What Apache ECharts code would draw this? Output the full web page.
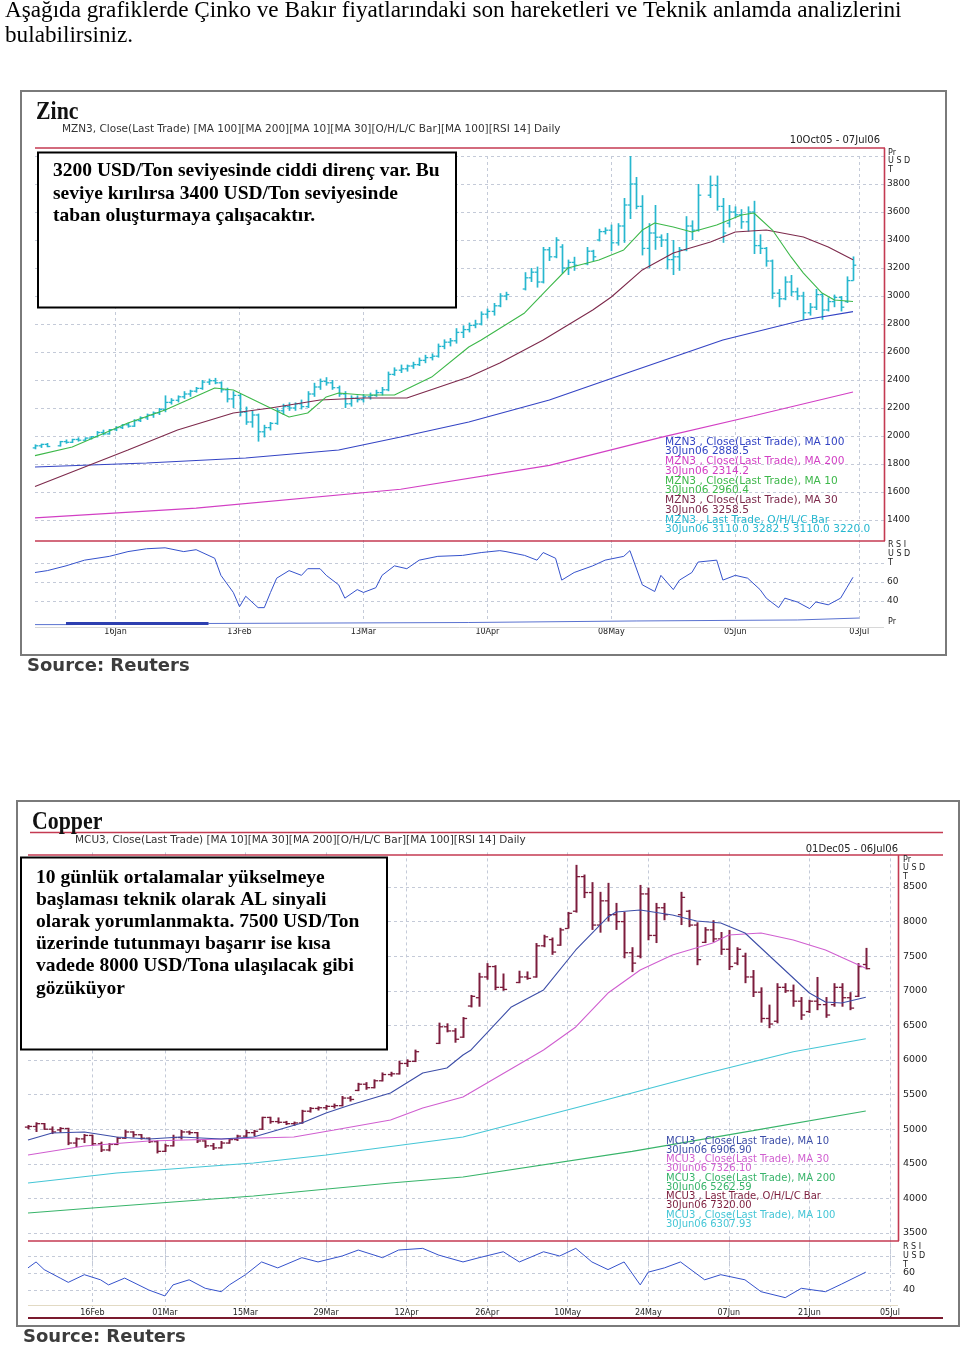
<!DOCTYPE html>
<html><head><meta charset="utf-8">
<script src="https://cdn.jsdelivr.net/npm/echarts@6/dist/echarts.min.js"></script>
<style>html,body{margin:0;padding:0;background:#fff}#c{width:960px;height:1347px}</style>
</head><body><div id="c"></div>
<script>
// ---------- categories / ticks ----------
function weekdays(start, end){const out=[];const d=new Date(start+'T00:00:00Z');const e=new Date(end+'T00:00:00Z');while(d<=e){const w=d.getUTCDay();if(w!==0&&w!==6)out.push(d.toISOString().slice(0,10));d.setUTCDate(d.getUTCDate()+1);}return out;}
const zincDates = weekdays('2005-12-28','2006-07-07');
const copperDates = weekdays('2006-02-06','2006-07-06');
const zincTicks = ['2006-01-16','2006-02-13','2006-03-13','2006-04-10','2006-05-08','2006-06-05','2006-07-03'];
const zincTickLabels = ['16Jan','13Feb','13Mar','10Apr','08May','05Jun','03Jul'];
const copperTicks = ['2006-02-16','2006-03-01','2006-03-15','2006-03-29','2006-04-12','2006-04-26','2006-05-10','2006-05-24','2006-06-07','2006-06-21','2006-07-05'];
const copperTickLabels = ['16Feb','01Mar','15Mar','29Mar','12Apr','26Apr','10May','24May','07Jun','21Jun','05Jul'];

// ---------- ZINC values ----------
// [open, high, low, close] per weekday from 28Dec05 (null = holiday)
const zincOHLC = [
[1915,1940,1905,1930],[1930,1945,1915,1940],[1940,1950,1920,1925],null,[1930,1965,1925,1960],
[1960,1975,1945,1955],[1955,1980,1950,1975],[1975,1990,1960,1970],[1970,1990,1965,1985],[1985,2000,1975,1995],
[1995,2035,1990,2025],[2025,2045,2005,2015],[2015,2050,2010,2045],[2045,2070,2035,2060],[2060,2085,2050,2080],
[2080,2095,2060,2070],[2070,2120,2065,2110],[2110,2140,2100,2130],[2130,2160,2115,2150],[2150,2175,2130,2165],
[2165,2200,2150,2190],[2190,2290,2170,2240],[2240,2270,2225,2255],[2255,2290,2240,2280],[2280,2320,2265,2300],
[2300,2330,2280,2320],[2320,2350,2310,2340],[2340,2400,2330,2385],[2385,2410,2365,2395],[2395,2415,2370,2380],
[2380,2390,2310,2330],[2330,2345,2240,2265],[2265,2320,2200,2290],[2290,2300,2140,2170],[2170,2210,2080,2100],
[2100,2180,2060,2150],[2150,2160,1960,2030],[2030,2080,1990,2060],[2060,2100,2040,2090],[2090,2200,2080,2180],
[2180,2230,2150,2210],[2210,2240,2180,2200],[2200,2240,2180,2230],[2230,2260,2190,2210],[2210,2320,2200,2300],
[2300,2380,2280,2350],[2350,2410,2330,2390],[2390,2420,2360,2380],[2380,2400,2330,2345],[2345,2360,2280,2300],
[2300,2320,2200,2230],[2230,2290,2210,2270],[2270,2290,2240,2260],[2260,2300,2240,2280],[2280,2310,2260,2290],
[2290,2330,2280,2310],[2310,2350,2290,2330],[2330,2460,2320,2440],[2440,2490,2430,2470],[2470,2510,2450,2480],
[2480,2510,2460,2500],[2500,2530,2480,2510],[2510,2560,2500,2540],[2540,2580,2520,2560],[2560,2590,2540,2570],
[2570,2660,2560,2640],[2640,2690,2620,2670],[2670,2700,2640,2680],[2680,2770,2660,2740],[2740,2790,2700,2760],
[2760,2810,2740,2790],[2790,2830,2770,2800],[2800,2890,2790,2870],[2870,2910,2840,2890],[2890,2950,2860,2930],
[2930,3020,2920,3000],[3000,3030,2970,3010],null,null,[3050,3170,3040,3130],
[3130,3200,3100,3170],[3170,3210,3060,3100],[3100,3350,3090,3330],[3330,3350,3250,3280],[3280,3420,3270,3400],
[3350,3370,3160,3200],[3200,3260,3150,3240],[3240,3280,3180,3220],null,[3230,3350,3220,3320],
[3320,3330,3250,3280],[3400,3480,3390,3460],[3460,3490,3440,3470],[3470,3510,3320,3380],[3380,3520,3360,3500],
[3500,3700,3380,3650],[3650,4000,3550,3800],[3800,3850,3620,3640],[3640,3720,3290,3340],[3340,3520,3200,3450],
[3450,3650,3330,3420],[3420,3440,3350,3400],[3400,3450,3190,3260],[3260,3400,3150,3280],[3280,3350,3180,3330],
[3330,3570,3320,3500],[3500,3540,3400,3470],[3470,3800,3460,3720],null,[3720,3860,3700,3790],
[3790,3860,3610,3640],[3640,3700,3380,3450],[3520,3650,3490,3600],[3600,3640,3560,3580],[3580,3620,3480,3530],
[3530,3640,3460,3600],[3600,3680,3300,3360],[3360,3440,3300,3340],[3340,3350,3210,3250],[3250,3260,2980,3020],
[3020,3050,2920,2980],[2980,3140,2970,3100],[3100,3150,3000,3030],[3030,3060,2970,3000],[3000,3030,2830,2880],
[2880,2950,2860,2920],[2920,3050,2900,3010],[3010,3020,2830,2900],[2900,2990,2890,2960],[2960,3010,2920,2990],
[2990,3000,2890,2920],[2960,3140,2950,3110],[3110,3282.5,3110,3220]
];
// [dayIndex, value]
const zincMA10 = [[0,1860],[6,1921],[15,2093],[21,2186],[29,2343],[32,2329],[38,2200],[41,2136],[44,2164],[47,2279],[49,2307],[53,2293],[58,2293],[64,2421],[70,2636],[72,2686],[79,2879],[83,3064],[86,3200],[91,3257],[95,3329],[98,3471],[100,3521],[103,3493],[106,3457],[110,3507],[114,3579],[116,3593],[119,3471],[122,3279],[124,3164],[127,3021],[129,2971],[132,2960.4]];
const zincMA30 = [[0,1640],[15,1900],[23,2043],[32,2164],[38,2200],[46,2257],[53,2271],[60,2271],[70,2421],[75,2521],[82,2686],[90,2900],[93,2993],[98,3186],[103,3307],[109,3386],[113,3457],[118,3471],[124,3421],[128,3350],[132,3258.5]];
const zincMA100 = [[0,1779],[18,1807],[34,1843],[49,1900],[59,1993],[70,2100],[83,2257],[96,2457],[111,2686],[124,2829],[132,2888.5]];
const zincMA200 = [[0,1415],[26,1485],[59,1620],[83,1790],[101,1990],[116,2145],[132,2314.2]];
const zincRSI = [[0,70],[2,72],[5,77],[8,83],[12,87],[15,92],[18,95],[21,96],[24,92],[26,94],[29,85],[30,67],[32,49],[33,34],[34,45],[36,33],[37,33],[38,49],[39,64],[41,72],[43,67],[44,74],[46,74],[47,67],[49,57],[50,43],[52,52],[53,49],[55,54],[56,67],[58,77],[60,74],[62,83],[65,87],[69,88],[72,91],[75,93],[76,92],[79,88],[81,83],[82,91],[84,85],[85,62],[87,70],[90,77],[92,83],[95,87],[96,93],[98,57],[100,50],[101,67],[103,52],[104,62],[106,70],[107,81],[110,83],[111,62],[113,67],[115,64],[117,52],[118,43],[120,33],[121,43],[123,39],[125,32],[126,39],[128,36],[130,43],[131,54],[132,65]];
const zincPr = [[0,1],[5,1.8],[28,2.5],[70,3.6],[97,4.3],[123,5.7],[133,5.7]];
const zincPrThick = [[5,1.8],[28,1.8]];
const zincYLabels = {min:1200,max:4000,step:200};

// ---------- COPPER values ----------
const copperOHLC = [
[5030,5060,5000,5040],[5040,5100,4960,5080],[5080,5090,4990,5000],[5000,5040,4930,4960],[4990,5030,4950,5010],
[5010,5020,4770,4800],[4800,4880,4740,4860],[4860,4930,4800,4910],[4910,4920,4760,4790],[4790,4820,4670,4700],
[4700,4800,4680,4780],[4780,4890,4770,4870],[4870,4990,4860,4960],[4960,4970,4880,4920],[4920,4930,4850,4870],
[4870,4880,4800,4820],[4820,4840,4650,4680],[4680,4790,4670,4760],[4760,4920,4750,4880],[4880,4990,4850,4960],
[4960,4980,4920,4950],[4950,4960,4800,4830],[4830,4840,4730,4760],[4760,4800,4700,4730],[4730,4830,4720,4800],
[4800,4870,4790,4850],[4850,4920,4830,4900],[4900,4990,4880,4950],[4950,4990,4900,4970],[5000,5180,4990,5170],
[5170,5180,5080,5110],[5110,5170,5080,5100],[5100,5120,5060,5080],[5080,5110,5050,5090],[5090,5280,5080,5260],
[5260,5320,5240,5300],[5300,5330,5270,5310],[5310,5350,5280,5330],[5330,5370,5300,5340],[5340,5480,5330,5450],
[5450,5480,5400,5430],[5560,5670,5550,5650],[5650,5680,5570,5600],[5600,5720,5590,5700],[5700,5820,5690,5790],
[5790,5830,5760,5800],[5800,5990,5790,5950],[5950,6010,5900,5980],[5980,6150,5970,6120],null,
null,[6240,6540,6230,6480],[6480,6530,6400,6420],[6420,6460,6250,6300],[6330,6620,6320,6600],
[6780,6940,6760,6920],[6900,7260,6770,7200],[7200,7400,7160,7350],[7350,7370,7010,7050],[7050,7250,7000,7020],
null,[7120,7290,7110,7200],[7200,7280,7160,7180],[7200,7690,7190,7650],[7650,7810,7630,7780],
[7740,7770,7520,7560],[7660,7910,7650,7880],[7900,8140,7900,8120],[8150,8820,8130,8650],[8650,8680,8340,8420],
[8420,8570,7880,7950],[7950,8430,7840,8300],[8300,8560,8000,8100],[8100,8270,7880,8000],[8000,8140,7470,7550],
[7550,7630,7270,7400],[7500,8530,7470,8400],[8400,8490,7730,7800],[7800,8270,7690,8200],[8200,8270,8020,8100],
null,[8100,8430,7950,8350],[8150,8170,7920,7950],[7950,7990,7370,7450],[7700,7920,7690,7880],
[7880,8020,7700,7750],[7750,7850,7520,7600],[7600,7880,7300,7350],[7400,7630,7370,7600],[7500,7550,7110,7200],
[7200,7300,6910,6980],[6980,7050,6540,6600],[6600,6800,6460,6520],[6560,7110,6530,7050],[7050,7110,6970,7000],
[7000,7090,6770,6850],[6850,6910,6580,6650],[6700,6870,6680,6850],[6850,7200,6720,6800],[6800,6910,6610,6650],
[6800,7110,6770,7050],[7050,7110,6770,6900],[6900,6980,6720,6750],[6920,7400,6910,7350],[7380,7620,7310,7320]
];
const copperMA10 = [[0,4844],[3,4945],[7,4960],[11,4888],[15,4859],[19,4888],[24,4859],[28,4888],[31,4989],[34,5090],[37,5234],[40,5350],[45,5523],[49,5812],[52,5885],[54,6072],[55,6145],[60,6766],[64,7012],[68,7590],[72,8067],[73,8139],[76,8168],[80,8095],[83,8009],[86,7980],[89,7835],[93,7402],[97,6968],[99,6838],[101,6824],[104,6906.9]];
const copperMA30 = [[0,4627],[7,4757],[15,4830],[24,4859],[33,4888],[38,4989],[45,5133],[49,5307],[54,5466],[64,6145],[68,6477],[72,6968],[76,7301],[80,7517],[85,7691],[87,7806],[91,7835],[95,7734],[99,7590],[104,7326.1]];
const copperMA100 = [[0,4223],[11,4367],[28,4512],[37,4627],[54,4888],[71,5400],[84,5800],[95,6120],[104,6307.93]];
const copperMA200 = [[0,3789],[8,3862],[28,4035],[45,4223],[54,4310],[75,4680],[90,4980],[104,5262.59]];
const copperRSI = [[0,66],[1,73],[2,64],[4,54],[5,49],[7,58],[9,52],[10,46],[12,54],[15,40],[17,33],[18,46],[20,52],[22,42],[24,38],[25,46],[27,58],[29,73],[31,66],[34,78],[36,73],[39,80],[41,87],[44,78],[46,87],[49,89],[51,81],[54,73],[56,78],[59,85],[61,73],[64,85],[66,80],[68,89],[70,73],[72,64],[74,73],[76,46],[77,61],[79,66],[81,73],[84,52],[86,58],[89,52],[91,38],[94,31],[96,42],[99,38],[101,47],[104,61]];

// ---------- colours ----------
const RED='#c43a52', GRIDC='#c4cad8';
const Z_BAR='#27b7cf', Z_MA10='#3db84a', Z_MA30='#7d2a4c', Z_MA100='#3444c4', Z_MA200='#d23fc4';
const C_BAR='#7c1d3d', C_MA10='#3d4ea8', C_MA30='#d05fd0', C_MA100='#45c6d6', C_MA200='#38b46a';
const RSI_C='#3552cc';

function ohlcData(arr){const out=[];arr.forEach((d,i)=>{if(d)out.push([i,d[0],d[1],d[2],d[3]]);});return out;}
function ohlcRender(color, lw){
  return function(params, api){
    const i=api.value(0);
    const h=api.coord([i,api.value(2)]), l=api.coord([i,api.value(3)]);
    const o=api.coord([i,api.value(1)]), c=api.coord([i,api.value(4)]);
    const w=Math.max(2.5, api.size([1,0])[0]*0.45);
    const x=Math.round(h[0])+0.5;
    return {type:'group',children:[
      {type:'line',shape:{x1:x,y1:h[1],x2:x,y2:l[1]},style:{stroke:color,lineWidth:lw}},
      {type:'line',shape:{x1:x-w,y1:o[1],x2:x,y2:o[1]},style:{stroke:color,lineWidth:1.3}},
      {type:'line',shape:{x1:x,y1:c[1],x2:x+w,y2:c[1]},style:{stroke:color,lineWidth:1.3}}
    ]};
  };
}
const inTicks=(list)=>(idx,val)=>list.indexOf(val)>=0;
const fmtTick=(list,labels)=>(val)=>{const k=list.indexOf(val);return k>=0?labels[k]:'';};
function catAxis(grid, dates, ticks, labels, showLabel, margin){
  return {type:'category',gridIndex:grid,data:dates,boundaryGap:false,
    axisLine:{show:false},axisTick:{show:false},
    axisLabel:{show:showLabel,interval:inTicks(ticks),formatter:fmtTick(ticks,labels),margin:margin||2,
      fontSize:8,fontFamily:'DejaVu Sans',color:'#222'},
    splitLine:{show:true,interval:inTicks(ticks),lineStyle:{type:[3,3],color:GRIDC,width:1}}};
}
function valAxis(grid,min,max,step,opts){
  opts=opts||{};
  return {type:'value',gridIndex:grid,position:'right',min:min,max:max,interval:step,scale:false,
    axisLine:{show:false},axisTick:{show:false},
    axisLabel:Object.assign({show:true,margin:opts.margin||3,fontSize:opts.fs||9,fontFamily:'DejaVu Sans',color:'#222',
      showMinLabel:false,showMaxLabel:false,formatter:(v)=>String(v)},opts.label||{}),
    splitLine:{show:opts.split!==false,showMinLine:false,showMaxLine:!!opts.maxLine,lineStyle:{type:[3,3],color:GRIDC,width:1}}};
}
function lineS(x,y,data,color,w,extra){return Object.assign({type:'line',xAxisIndex:x,yAxisIndex:y,data:data,symbol:'none',silent:true,
  lineStyle:{color:color,width:w||1},z:3},extra||{});}

// ---------- graphics (frames, texts) ----------
const T=(x,y,text,font,fill,align,extra)=>Object.assign({type:'text',x:x,y:y,z:50,silent:true,style:{text:text,font:font,fill:fill||'#000',textAlign:align||'left',textVerticalAlign:'middle'}},extra||{});
const L=(x1,y1,x2,y2,color,w,z)=>({type:'line',z:z||40,silent:true,shape:{x1:x1,y1:y1,x2:x2,y2:y2},style:{stroke:color,lineWidth:w||1}});
const ZSMALL='10.6px "DejaVu Sans"', CSMALL='10px "DejaVu Sans"', SUB='10.5px "DejaVu Sans"', TINY='10px "DejaVu Sans"';
const boxFont='bold 19.5px "Liberation Serif"';
const headFont='23.2px "Liberation Serif"';
const titleFont='bold 26px "Liberation Serif"';

const graphics = [
  // page header
  T(5,11,'Aşağıda grafiklerde Çinko ve Bakır fiyatlarındaki son hareketleri ve Teknik anlamda analizlerini',headFont,'#000'),
  T(5,36,'bulabilirsiniz.',headFont,'#000'),
  // ZINC frame
  {type:'rect',z:1,silent:true,shape:{x:21,y:91,width:925,height:564},style:{fill:'none',stroke:'#7a7a7a',lineWidth:2}},
  T(36,112,'Zinc',titleFont,'#111','left',{scaleX:0.84}),
  T(62,129,'MZN3, Close(Last Trade) [MA 100][MA 200][MA 10][MA 30][O/H/L/C Bar][MA 100][RSI 14] Daily',SUB,'#333'),
  T(880,140,'10Oct05 - 07Jul06',TINY,'#222','right'),
  L(35,148,885,148,RED,1.6), L(884.5,148,884.5,541,RED,1.6), L(35,541,885,541,RED,1.6),
  L(35,627.5,884,627.5,'#d8d8d8',1),
  T(888,153,'Pr','8px "DejaVu Sans"','#222'),T(888,161,'U S D','8px "DejaVu Sans"','#222'),T(888,170,'T','8px "DejaVu Sans"','#222'),
  T(888,545,'R S I','8px "DejaVu Sans"','#222'),T(888,554,'U S D','8px "DejaVu Sans"','#222'),T(888,563,'T','8px "DejaVu Sans"','#222'),
  T(888,622,'Pr','8px "DejaVu Sans"','#222'),
  {type:'rect',z:60,silent:true,shape:{x:38,y:152.5,width:418,height:155},style:{fill:'#fff',stroke:'#000',lineWidth:2}},
  T(53,171,'3200 USD/Ton seviyesinde ciddi direnç var. Bu',boxFont,'#000','left',{z:61}),
  T(53,194,'seviye kırılırsa 3400 USD/Ton seviyesinde',boxFont,'#000','left',{z:61}),
  T(53,216,'taban oluşturmaya çalışacaktır.',boxFont,'#000','left',{z:61}),
  T(665,442,'MZN3 , Close(Last Trade), MA 100',ZSMALL,Z_MA100), T(665,451.5,'30Jun06 2888.5',ZSMALL,Z_MA100),
  T(665,461.5,'MZN3 , Close(Last Trade), MA 200',ZSMALL,Z_MA200), T(665,471,'30Jun06 2314.2',ZSMALL,Z_MA200),
  T(665,481,'MZN3 , Close(Last Trade), MA 10',ZSMALL,Z_MA10), T(665,490.5,'30Jun06 2960.4',ZSMALL,Z_MA10),
  T(665,500.5,'MZN3 , Close(Last Trade), MA 30',ZSMALL,Z_MA30), T(665,510,'30Jun06 3258.5',ZSMALL,Z_MA30),
  T(665,520,'MZN3 , Last Trade, O/H/L/C Bar',ZSMALL,Z_BAR), T(665,529.5,'30Jun06 3110.0 3282.5 3110.0 3220.0',ZSMALL,Z_BAR),
  T(27,666,'Source: Reuters','bold 18px "DejaVu Sans"','#3c3c3c'),
  // COPPER frame
  {type:'rect',z:1,silent:true,shape:{x:17,y:801,width:942,height:525},style:{fill:'none',stroke:'#7a7a7a',lineWidth:2}},
  T(32,822,'Copper',titleFont,'#111','left',{scaleX:0.84}),
  L(30,832.5,943,832.5,RED,1.4),
  T(75,840,'MCU3, Close(Last Trade) [MA 10][MA 30][MA 200][O/H/L/C Bar][MA 100][RSI 14] Daily',SUB,'#333'),
  T(898,849,'01Dec05 - 06Jul06',TINY,'#222','right'),
  L(28,855,943,855,RED,1.6), L(898.5,855,898.5,1241,RED,1.6), L(28,1241,899,1241,RED,1.6),
  L(28,1305.5,898,1305.5,'#e2dac4',1),
  L(28,1318,943,1318,'#7a1a2e',2.2),
  T(903,860,'Pr','8px "DejaVu Sans"','#222'),T(903,868,'U S D','8px "DejaVu Sans"','#222'),T(903,877,'T','8px "DejaVu Sans"','#222'),
  T(903,1247,'R S I','8px "DejaVu Sans"','#222'),T(903,1256,'U S D','8px "DejaVu Sans"','#222'),T(903,1265,'T','8px "DejaVu Sans"','#222'),
  {type:'rect',z:60,silent:true,shape:{x:21,y:857.5,width:366,height:192},style:{fill:'#fff',stroke:'#000',lineWidth:2}},
  T(36,878,'10 günlük ortalamalar yükselmeye',boxFont,'#000','left',{z:61}),
  T(36,900,'başlaması teknik olarak AL sinyali',boxFont,'#000','left',{z:61}),
  T(36,922,'olarak yorumlanmakta. 7500 USD/Ton',boxFont,'#000','left',{z:61}),
  T(36,944,'üzerinde tutunmayı başarır ise kısa',boxFont,'#000','left',{z:61}),
  T(36,966,'vadede 8000 USD/Tona ulaşılacak gibi',boxFont,'#000','left',{z:61}),
  T(36,989,'gözüküyor',boxFont,'#000','left',{z:61}),
  T(666,1141,'MCU3 , Close(Last Trade), MA 10',CSMALL,C_MA10), T(666,1150,'30Jun06 6906.90',CSMALL,C_MA10),
  T(666,1159.5,'MCU3 , Close(Last Trade), MA 30',CSMALL,C_MA30), T(666,1168.5,'30Jun06 7326.10',CSMALL,C_MA30),
  T(666,1178,'MCU3 , Close(Last Trade), MA 200',CSMALL,C_MA200), T(666,1187,'30Jun06 5262.59',CSMALL,C_MA200),
  T(666,1196.5,'MCU3 , Last Trade, O/H/L/C Bar',CSMALL,C_BAR), T(666,1205.5,'30Jun06 7320.00',CSMALL,C_BAR),
  T(666,1215,'MCU3 , Close(Last Trade), MA 100',CSMALL,C_MA100), T(666,1224,'30Jun06 6307.93',CSMALL,C_MA100),
  T(23,1337,'Source: Reuters','bold 18px "DejaVu Sans"','#3c3c3c')
];

const rsiLabel={formatter:(v)=>(v===40||v===60)?String(v):''};
const option = {
  animation:false,
  backgroundColor:'#fff',
  grid:[
    {left:35,top:156,width:849,height:392},
    {left:35,top:544,width:849,height:76},
    {left:35,top:612,width:849,height:14},
    {left:28,top:852.4,width:870,height:415.2},
    {left:28,top:1239,width:870,height:68}
  ],
  xAxis:[
    catAxis(0,zincDates,zincTicks,zincTickLabels,false),
    catAxis(1,zincDates,zincTicks,zincTickLabels,false),
    Object.assign(catAxis(2,zincDates,zincTicks,zincTickLabels,true,2),{splitLine:{show:false}}),
    catAxis(3,copperDates,copperTicks,copperTickLabels,false),
    catAxis(4,copperDates,copperTicks,copperTickLabels,true,0)
  ],
  yAxis:[
    valAxis(0,zincYLabels.min,zincYLabels.max,zincYLabels.step,{maxLine:true}),
    valAxis(1,20,100,20,{label:rsiLabel}),
    {type:'value',gridIndex:2,min:0,max:10,show:false},
    valAxis(3,3000,9000,500,{margin:5,fs:9.5}),
    valAxis(4,20,100,20,{margin:5,fs:9.5,label:rsiLabel})
  ],
  graphic:{elements:graphics},
  series:[
    {type:'custom',xAxisIndex:0,yAxisIndex:0,data:ohlcData(zincOHLC),renderItem:ohlcRender(Z_BAR,1.7),encode:{x:0,y:[1,2,3,4]},z:2,silent:true},
    lineS(0,0,zincMA200,Z_MA200,1.1),
    lineS(0,0,zincMA100,Z_MA100,1.1),
    lineS(0,0,zincMA30,Z_MA30,1.1),
    lineS(0,0,zincMA10,Z_MA10,1.1),
    lineS(1,1,zincRSI,RSI_C,1),
    lineS(2,2,zincPr,'#5a72d0',1,{step:'end'}),
    lineS(2,2,zincPrThick,'#2d3fb0',3),
    {type:'custom',xAxisIndex:3,yAxisIndex:3,data:ohlcData(copperOHLC),renderItem:ohlcRender(C_BAR,2),encode:{x:0,y:[1,2,3,4]},z:2,silent:true},
    lineS(3,3,copperMA200,C_MA200,1.1),
    lineS(3,3,copperMA100,C_MA100,1.1),
    lineS(3,3,copperMA30,C_MA30,1.1),
    lineS(3,3,copperMA10,C_MA10,1.1),
    lineS(4,4,copperRSI,RSI_C,1)
  ]
};
const chart = echarts.init(document.getElementById('c'),null,{renderer:'canvas',width:960,height:1347});
chart.setOption(option);
</script></body></html>
